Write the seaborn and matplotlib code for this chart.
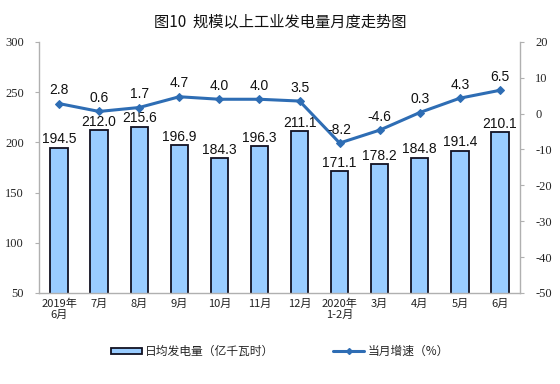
import matplotlib
matplotlib.use('Agg')
import matplotlib.pyplot as plt
from matplotlib.lines import Line2D
from matplotlib.patches import Patch
import seaborn as sns
import numpy as np
import pandas as pd

# data
months = ['2019年\n6月', '7月', '8月', '9月', '10月', '11月', '12月',
          '2020年\n1-2月', '3月', '4月', '5月', '6月']
daily_output = [194.5, 212.0, 215.6, 196.9, 184.3, 196.3, 211.1,
                171.1, 178.2, 184.8, 191.4, 210.1]
growth = [2.8, 0.6, 1.7, 4.7, 4.0, 4.0, 3.5, -8.2, -4.6, 0.3, 4.3, 6.5]

bar_color = '#99CCFF'
edge_color = '#111122'
line_color = '#2E6DB4'

sns.set_style('white')
plt.rcParams['font.family'] = ['Noto Sans CJK SC', 'DejaVu Sans']
plt.rcParams['axes.unicode_minus'] = False

df = pd.DataFrame({'month': months, 'output': daily_output, 'growth': growth})

fig = plt.figure(figsize=(5.6, 3.84), dpi=100)
ax = fig.add_axes([0.0696, 0.237, 0.859, 0.654])

sns.barplot(data=df, x='month', y='output', color=bar_color, width=0.43,
            edgecolor=edge_color, linewidth=1.3, saturation=1, ax=ax)
ax.set_ylim(50, 300)
ax.set_yticks(np.arange(50, 301, 50))
ax.set_xlim(-0.5, len(months) - 0.5)
ax.set_xlabel('')
ax.set_ylabel('')

for i, v in enumerate(daily_output):
    ax.text(i, v + 1.5, f'{v:.1f}', ha='center', va='bottom', fontsize=10,
            family='Liberation Sans', color='#111111')

ax2 = ax.twinx()
x_idx = np.arange(len(months))
sns.lineplot(x=x_idx, y=growth, color=line_color, linewidth=2.2, marker='D',
             markersize=4.5, markeredgecolor=line_color, ax=ax2)
ax2.set_ylim(-50, 20)
ax2.set_yticks(np.arange(-50, 21, 10))
for i, v in enumerate(growth):
    ax2.text(i, v + 1.8, f'{v:.1f}', ha='center', va='bottom', fontsize=10,
             family='Liberation Sans', color='#111111')

# spines and ticks
for a in (ax, ax2):
    a.spines['top'].set_visible(False)
    for s in ('left', 'right', 'bottom'):
        a.spines[s].set_color('#b0b0b0')
        a.spines[s].set_linewidth(1)
ax.spines['right'].set_visible(False)
ax2.spines['left'].set_visible(False)
ax2.spines['bottom'].set_visible(False)

ax.tick_params(axis='y', length=3, color='#b0b0b0', labelsize=9, pad=8)
ax2.tick_params(axis='y', length=3, color='#b0b0b0', labelsize=9, pad=8)
for lab in ax.get_yticklabels() + ax2.get_yticklabels():
    lab.set_family('Liberation Serif')

ax.set_xticks(x_idx)
ax.set_xticklabels(months, fontsize=8, color='#222222', linespacing=1.1)
ax.set_xticks(np.arange(-0.5, len(months), 1), minor=True)
ax.tick_params(axis='x', which='major', length=0, pad=4)
ax.tick_params(axis='x', which='minor', length=3, color='#b0b0b0', direction='in')

fig.text(0.5, 0.943, '图10  规模以上工业发电量月度走势图', ha='center', va='center',
         fontsize=11, color='#111111')

handles = [Patch(facecolor=bar_color, edgecolor=edge_color, linewidth=1.3),
           Line2D([0], [0], color=line_color, linewidth=2.2, marker='D', markersize=3)]
labels = ['日均发电量（亿千瓦时）', '当月增速（%）']
fig.legend(handles, labels, loc='center', bbox_to_anchor=(0.5, 0.085), ncol=2,
           frameon=False, fontsize=8.5, handlelength=2.6, handleheight=0.4,
           columnspacing=5, handletextpad=0.3)

fig.savefig('out.png', dpi=100)
